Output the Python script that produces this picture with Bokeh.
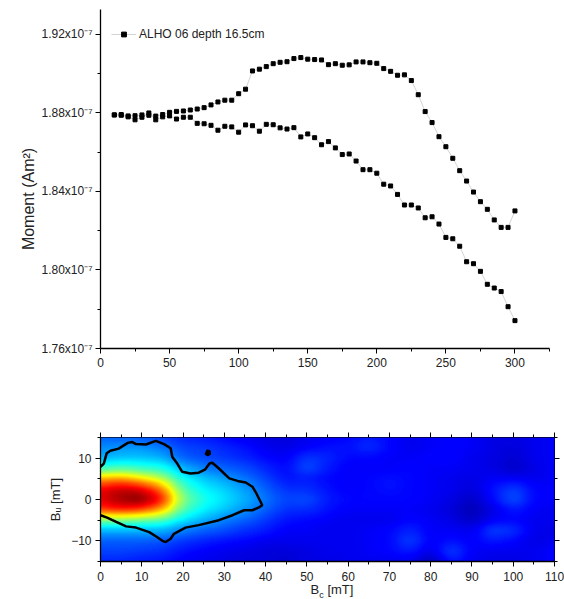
import numpy as np
from bokeh.plotting import figure
from bokeh.layouts import column
from bokeh.models import (ColumnDataSource, FixedTicker, CustomJSTickFormatter, Div,
                          Legend, LegendItem, LinearAxis, LinearColorMapper, Range1d)
from bokeh.embed import file_html
from bokeh.resources import INLINE

# ---------------- top panel data (moment in units of 1e-7 Am^2) ----------------
field_mT = [10, 15, 20, 25, 30, 35, 40, 45, 50, 55, 60, 65, 70, 75, 80, 85, 90, 95, 100,
            105, 110, 115, 120, 125, 130, 135, 140, 145, 150, 155, 160, 165, 170, 175, 180,
            185, 190, 195, 200, 205, 210, 215, 220, 225, 230, 235, 240, 245, 250, 255, 260,
            265, 270, 275, 280, 285, 290, 295, 300]
moment_upper = [1.8790, 1.8792, 1.8785, 1.8786, 1.8790, 1.8788, 1.8784, 1.8792, 1.8803, 1.8808,
                1.8810, 1.8815, 1.8820, 1.8827, 1.8841, 1.8856, 1.8865, 1.8865, 1.8898, 1.8921,
                1.9014, 1.9023, 1.9036, 1.9051, 1.9058, 1.9061, 1.9077, 1.9082, 1.9074, 1.9072,
                1.9070, 1.9046, 1.9051, 1.9043, 1.9045, 1.9060, 1.9060, 1.9056, 1.9053, 1.9026,
                1.9012, 1.8992, 1.8994, 1.8965, 1.8893, 1.8807, 1.8751, 1.8679, 1.8628, 1.8569,
                1.8506, 1.8453, 1.8397, 1.8348, 1.8309, 1.8255, 1.8217, 1.8217, 1.8301]
moment_lower = [1.8790, 1.8788, 1.8780, 1.8765, 1.8778, 1.8800, 1.8765, 1.8780, 1.8785, 1.8769,
                1.8778, 1.8778, 1.8747, 1.8745, 1.8737, 1.8712, 1.8732, 1.8729, 1.8702, 1.8739,
                1.8735, 1.8707, 1.8742, 1.8740, 1.8724, 1.8718, 1.8725, 1.8678, 1.8693, 1.8674,
                1.8638, 1.8654, 1.8622, 1.8588, 1.8591, 1.8555, 1.8511, 1.8511, 1.8493, 1.8437,
                1.8428, 1.8385, 1.8331, 1.8331, 1.8316, 1.8266, 1.8271, 1.8234, 1.8166, 1.8159,
                1.8121, 1.8042, 1.8032, 1.7993, 1.7927, 1.7908, 1.7890, 1.7813, 1.7742]
series_label = "ALHO 06 depth 16.5cm"
x_ticks = [0, 50, 100, 150, 200, 250, 300]
x_minor = [25, 75, 125, 175, 225, 275, 325]
y_ticks = [1.76, 1.80, 1.84, 1.88, 1.92]
y_minor = [1.78, 1.82, 1.86, 1.90]

# ---------------- bottom panel data (FORC distribution, normalised) ----------------
bc_grid = [0, 5, 10, 15, 20, 25, 30, 35, 40, 45, 50, 55, 60, 65, 70, 75, 80, 85, 90, 95, 100, 105, 110]
bu_grid = [-15, -12.5, -10, -7.5, -5, -2.5, 0, 2.5, 5, 7.5, 10, 12.5, 15]
forc_rows = [
    [0.16, 0.16, 0.15, 0.14, 0.12, 0.11, 0.10, 0.09, 0.09, 0.08, 0.10, 0.10, 0.11, 0.11, 0.11, 0.11, 0.05, 0.15, 0.11, 0.10, 0.10, 0.11, 0.13],
    [0.19, 0.19, 0.18, 0.17, 0.14, 0.12, 0.11, 0.10, 0.09, 0.09, 0.10, 0.11, 0.11, 0.12, 0.13, 0.15, 0.10, 0.19, 0.12, 0.11, 0.11, 0.11, 0.13],
    [0.22, 0.22, 0.22, 0.21, 0.18, 0.16, 0.14, 0.13, 0.11, 0.11, 0.11, 0.11, 0.11, 0.12, 0.13, 0.19, 0.12, 0.14, 0.12, 0.15, 0.13, 0.10, 0.11],
    [0.30, 0.30, 0.30, 0.30, 0.25, 0.22, 0.20, 0.17, 0.15, 0.12, 0.12, 0.11, 0.11, 0.12, 0.13, 0.16, 0.12, 0.12, 0.11, 0.19, 0.17, 0.11, 0.10],
    [0.50, 0.50, 0.48, 0.45, 0.35, 0.30, 0.25, 0.22, 0.18, 0.14, 0.13, 0.12, 0.11, 0.11, 0.11, 0.13, 0.12, 0.10, 0.07, 0.12, 0.13, 0.11, 0.11],
    [0.82, 0.85, 0.82, 0.70, 0.45, 0.37, 0.32, 0.27, 0.22, 0.17, 0.17, 0.14, 0.12, 0.12, 0.12, 0.12, 0.11, 0.09, 0.05, 0.10, 0.15, 0.12, 0.11],
    [0.90, 0.97, 1.00, 0.85, 0.50, 0.40, 0.35, 0.30, 0.24, 0.19, 0.20, 0.15, 0.13, 0.13, 0.13, 0.13, 0.12, 0.10, 0.07, 0.13, 0.21, 0.13, 0.12],
    [0.88, 0.93, 0.90, 0.75, 0.45, 0.37, 0.33, 0.28, 0.22, 0.17, 0.17, 0.14, 0.12, 0.13, 0.14, 0.13, 0.12, 0.11, 0.09, 0.14, 0.19, 0.13, 0.12],
    [0.70, 0.72, 0.65, 0.55, 0.38, 0.32, 0.28, 0.24, 0.19, 0.14, 0.15, 0.13, 0.12, 0.13, 0.14, 0.13, 0.12, 0.11, 0.10, 0.12, 0.12, 0.11, 0.12],
    [0.42, 0.45, 0.42, 0.40, 0.30, 0.25, 0.22, 0.20, 0.16, 0.13, 0.20, 0.15, 0.12, 0.12, 0.12, 0.13, 0.12, 0.12, 0.11, 0.10, 0.07, 0.10, 0.12],
    [0.30, 0.32, 0.32, 0.30, 0.22, 0.20, 0.18, 0.16, 0.13, 0.12, 0.18, 0.16, 0.13, 0.13, 0.12, 0.12, 0.13, 0.13, 0.11, 0.10, 0.08, 0.11, 0.12],
    [0.26, 0.27, 0.27, 0.24, 0.19, 0.18, 0.16, 0.14, 0.11, 0.10, 0.12, 0.14, 0.14, 0.17, 0.13, 0.11, 0.12, 0.13, 0.12, 0.10, 0.09, 0.11, 0.12],
    [0.22, 0.22, 0.21, 0.19, 0.16, 0.15, 0.13, 0.11, 0.10, 0.09, 0.11, 0.12, 0.13, 0.15, 0.13, 0.11, 0.12, 0.13, 0.12, 0.10, 0.10, 0.11, 0.12],
]
contour_bc = [0, 0.8, 1.5, 2.4, 4.4, 6.6, 7.7, 8.6, 11.0, 13.4, 15.4, 17.0, 17.4, 18.6, 19.8, 21.8,
              23.8, 25.4, 26.4, 27.1, 28.7, 31.2, 33.2, 35.2, 36.8, 37.6, 39.2, 38.4, 36.8, 34.8,
              32.0, 28.7, 23.8, 20.6, 17.8, 17.0, 15.8, 15.0, 13.4, 11.8, 8.6, 6.2, 3.8, 1.6, 0]
contour_bu = [7.9, 8.7, 11.2, 11.8, 12.3, 13.7, 13.9, 13.4, 13.3, 14.2, 13.4, 12.4, 10.3, 8.7, 6.7, 6.3,
              6.5, 7.3, 8.7, 8.9, 7.5, 5.1, 4.5, 4.1, 3.1, 1.8, -1.4, -1.9, -2.6, -2.6,
              -3.8, -5.0, -6.2, -6.8, -8.3, -9.5, -10.3, -10.0, -8.9, -7.9, -6.8, -6.5, -5.4, -4.4, -3.8]
island_bc = [25.4, 26.0, 26.6, 26.5, 25.8]
island_bu = [11.0, 10.6, 11.0, 11.8, 11.9]
bc_ticks = [0, 10, 20, 30, 40, 50, 60, 70, 80, 90, 100, 110]
bc_minor = [5, 15, 25, 35, 45, 55, 65, 75, 85, 95, 105]
bu_ticks = [-10, 0, 10]
bu_minor = [-15, -5, 5, 15]

FONT = "Liberation Sans"
TXT = "#222222"

# jet colour map
t = np.linspace(0, 1, 256)
r = np.clip(1.5 - np.abs(4 * t - 3), 0, 1)
g = np.clip(1.5 - np.abs(4 * t - 2), 0, 1)
b = np.clip(1.5 - np.abs(4 * t - 1), 0, 1)
jet = ["#%02x%02x%02x" % (int(round(rr * 255)), int(round(gg * 255)), int(round(bb * 255)))
       for rr, gg, bb in zip(r, g, b)]


def style_axis(ax, size="12px"):
    ax.axis_line_color = "black"
    ax.axis_line_width = 1.3
    ax.major_tick_line_color = "black"
    ax.minor_tick_line_color = "black"
    ax.major_tick_line_width = 1
    ax.minor_tick_line_width = 1
    ax.major_tick_in = 0
    ax.major_tick_out = 5
    ax.minor_tick_in = 0
    ax.minor_tick_out = 3
    ax.major_label_text_font = FONT
    ax.major_label_text_font_size = size
    ax.major_label_text_color = TXT


# ---------------- top figure ----------------
p1 = figure(frame_width=449, frame_height=339, min_border_left=97, min_border_right=10,
            min_border_top=9, min_border_bottom=32,
            x_range=Range1d(0, 325), y_range=Range1d(1.76, 1.9327),
            output_backend="svg", toolbar_location=None)
p1.xgrid.visible = False
p1.ygrid.visible = False
p1.outline_line_color = None
style_axis(p1.xaxis[0])
style_axis(p1.yaxis[0])
p1.xaxis.ticker = FixedTicker(ticks=x_ticks, minor_ticks=x_minor)
p1.yaxis.ticker = FixedTicker(ticks=y_ticks, minor_ticks=y_minor)
p1.yaxis.formatter = CustomJSTickFormatter(code="return tick.toFixed(2) + 'x10\u207b\u2077';")
p1.xaxis.major_label_standoff = 4
p1.yaxis.major_label_standoff = 3
p1.yaxis.axis_label = "Moment (Am\u00b2)" + "\u00a0" * 9
p1.yaxis.axis_label_text_font = FONT
p1.yaxis.axis_label_text_font_size = "16px"
p1.yaxis.axis_label_text_font_style = "normal"
p1.yaxis.axis_label_text_color = TXT
p1.yaxis.axis_label_standoff = 1

x_all = list(reversed(field_mT)) + field_mT
y_all = list(reversed(moment_lower)) + moment_upper
src = ColumnDataSource(dict(x=x_all, y=y_all))
lr = p1.line("x", "y", source=src, line_color="#c8c8c8", line_width=0.8)
sr = p1.scatter("x", "y", source=src, marker="square", size=4, fill_color="black", line_color="black")

leg = Legend(items=[LegendItem(label=series_label, renderers=[lr, sr])],
             location=(11, 307), border_line_color=None, background_fill_alpha=0,
             padding=0, margin=0, glyph_width=25, glyph_height=12, label_standoff=3,
             label_text_font=FONT, label_text_font_size="12px", label_text_color=TXT)
p1.add_layout(leg)

# ---------------- bottom figure ----------------
p2 = figure(frame_width=454, frame_height=124, min_border_left=100, min_border_right=10,
            min_border_top=57, min_border_bottom=18,
            x_range=Range1d(0, 110), y_range=Range1d(-15, 15),
            output_backend="svg", toolbar_location=None)
p2.xgrid.visible = False
p2.ygrid.visible = False
p2.outline_line_color = "black"
p2.outline_line_width = 1

# display resampling of the read grid (bilinear + light box smoothing) for a smooth map
fine_bc = np.arange(bc_grid[0], bc_grid[-1] + 0.001, 0.25)
fine_bu = np.arange(bu_grid[0], bu_grid[-1] + 0.001, 0.125)
grid = np.array(forc_rows)
tmp = np.array([np.interp(fine_bc, bc_grid, row) for row in grid])
fine = np.array([np.interp(fine_bu, bu_grid, tmp[:, j]) for j in range(tmp.shape[1])]).T


def box_smooth(a, n, axis):
    pad = [(0, 0), (0, 0)]
    pad[axis] = (n // 2, n // 2)
    ap = np.pad(a, pad, mode="edge")
    k = np.ones(n) / n
    return np.apply_along_axis(lambda v: np.convolve(v, k, mode="valid"), axis, ap)


fine = box_smooth(fine, 17, 1)
fine = box_smooth(fine, 17, 0)

mapper = LinearColorMapper(palette=jet, low=0, high=1)
p2.image(image=[fine], x=bc_grid[0] - 0.125, y=bu_grid[0] - 0.0625,
         dw=(bc_grid[-1] - bc_grid[0]) + 0.25, dh=(bu_grid[-1] - bu_grid[0]) + 0.125,
         color_mapper=mapper, level="image")
p2.line(contour_bc, contour_bu, line_color="black", line_width=2.5)
p2.patch(island_bc, island_bu, fill_color="black", line_color="black", line_width=1.5)

style_axis(p2.xaxis[0])
style_axis(p2.yaxis[0])
p2.xaxis.ticker = FixedTicker(ticks=bc_ticks, minor_ticks=bc_minor)
p2.yaxis.ticker = FixedTicker(ticks=bu_ticks, minor_ticks=bu_minor)
p2.xaxis.major_label_standoff = 5
p2.yaxis.major_label_standoff = 4
p2.yaxis.axis_label = "B\u1d64 [mT]"
p2.yaxis.axis_label_text_font = FONT
p2.yaxis.axis_label_text_font_size = "13px"
p2.yaxis.axis_label_text_font_style = "normal"
p2.yaxis.axis_label_text_color = TXT
p2.yaxis.axis_label_standoff = 5

blank = CustomJSTickFormatter(code="return '';")
for side in ("above", "right"):
    ax = LinearAxis(ticker=FixedTicker(ticks=bc_ticks if side == "above" else bu_ticks,
                                       minor_ticks=bc_minor if side == "above" else bu_minor),
                    formatter=blank)
    style_axis(ax)
    ax.axis_line_color = None
    ax.major_label_standoff = 0
    p2.add_layout(ax, side)

xlabel = Div(text='<div style="width:454px;margin-left:100px;text-align:center;position:relative;top:-6px;'
                  'font-family:\'Liberation Sans\';font-size:13px;line-height:14px;'
                  'color:#222222;white-space:nowrap;">'
                  'B<sub style="font-size:9px;line-height:0;">c</sub> [mT]</div>',
             width=564, height=20)

layout = column(p1, p2, xlabel, spacing=0)
open("out.html", "w").write(file_html(layout, INLINE))
